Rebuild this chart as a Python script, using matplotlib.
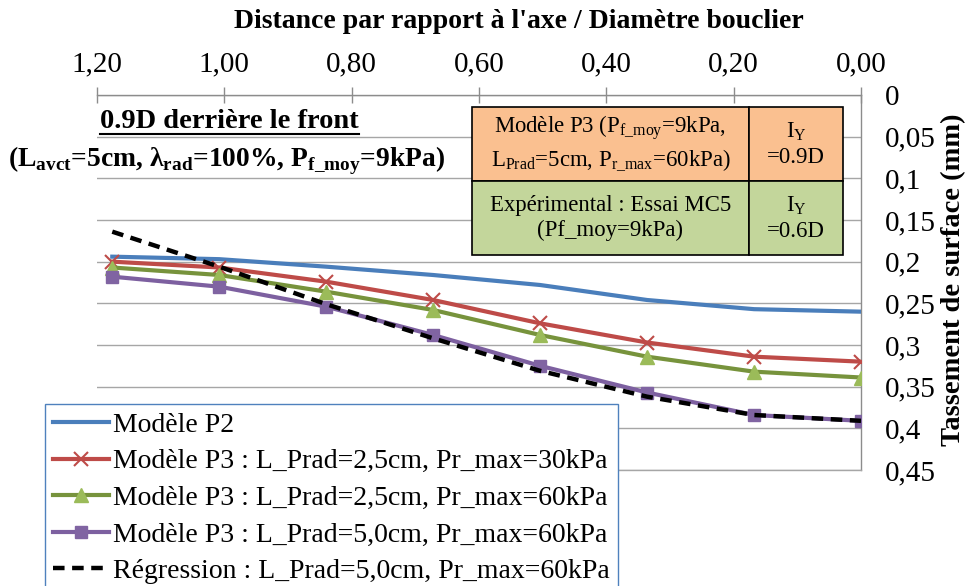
import numpy as np
import matplotlib
matplotlib.use('Agg')
import matplotlib.pyplot as plt
from matplotlib.ticker import FuncFormatter
from matplotlib.lines import Line2D

plt.rcParams['font.family'] = ['Liberation Serif', 'DejaVu Serif']

# distance / diameter (x axis is reversed: 1.2 on the left, 0 on the right)
distance = [1.176, 1.008, 0.840, 0.672, 0.504, 0.336, 0.168, 0.000]

# surface settlement (mm)
p2 = [0.194, 0.197, 0.206, 0.216, 0.228, 0.246, 0.257, 0.260]
p3_25_30 = [0.200, 0.207, 0.224, 0.246, 0.274, 0.297, 0.314, 0.320]
p3_25_60 = [0.207, 0.216, 0.236, 0.258, 0.288, 0.314, 0.332, 0.339]
p3_50_60 = [0.218, 0.230, 0.254, 0.288, 0.325, 0.357, 0.384, 0.391]
regression = [0.164, 0.206, 0.251, 0.292, 0.331, 0.362, 0.384, 0.391]

labels = ['Modèle P2',
          'Modèle P3 : L_Prad=2,5cm, Pr_max=30kPa',
          'Modèle P3 : L_Prad=2,5cm, Pr_max=60kPa',
          'Modèle P3 : L_Prad=5,0cm, Pr_max=60kPa',
          'Régression : L_Prad=5,0cm, Pr_max=60kPa']

x_ticks = [1.2, 1.0, 0.8, 0.6, 0.4, 0.2, 0.0]
y_ticks = [0, 0.05, 0.1, 0.15, 0.2, 0.25, 0.3, 0.35, 0.4, 0.45]

fig = plt.figure(figsize=(9.77, 5.86), dpi=100)
ax = fig.add_axes([97 / 977, 1 - 470 / 586, 764 / 977, 375 / 586])

ax.plot(distance, p2, color='#4A7EBB', lw=3, label=labels[0], zorder=3)
ax.plot(distance, p3_25_30, color='#BE4B48', lw=3, marker='x', ms=10, mew=1.5,
        label=labels[1], zorder=3)
ax.plot(distance, p3_25_60, color='#77933C', lw=3, marker='^', ms=10,
        mfc='#9BBB59', mec='#9BBB59', label=labels[2], zorder=3)
ax.plot(distance, p3_50_60, color='#7D60A0', lw=3, marker='s', ms=9,
        mfc='#8064A2', mec='#8064A2', label=labels[3], zorder=3)
ax.plot(distance, regression, color='black', lw=3.2, ls=(0, (2.6, 1.7)),
        label=labels[4], zorder=4)

ax.set_xlim(1.2, 0)
ax.set_ylim(0.45, 0)
ax.set_xticks(x_ticks)
ax.set_yticks(y_ticks)
ax.xaxis.set_major_formatter(FuncFormatter(lambda v, p: f'{v:.2f}'.replace('.', ',')))
ax.yaxis.set_major_formatter(FuncFormatter(lambda v, p: f'{v:g}'.replace('.', ',')))

ax.xaxis.tick_top()
ax.xaxis.set_label_position('top')
ax.yaxis.tick_right()
ax.yaxis.set_label_position('right')
ax.tick_params(axis='x', direction='inout', length=11, width=1, color='#8C8C8C',
               labelsize=21, pad=7)
ax.tick_params(axis='y', length=0, labelsize=21, pad=17)

ax.grid(axis='y', color='#A6A6A6', lw=1)
ax.spines['left'].set_visible(False)
for side in ['top', 'right', 'bottom']:
    ax.spines[side].set_color('#8C8C8C')
    ax.spines[side].set_linewidth(1)
ax.spines['bottom'].set_color('#A6A6A6')

ax.set_xlabel("Distance par rapport à l'axe / Diamètre bouclier",
              fontsize=20, fontweight='bold')
ax.xaxis.set_label_coords((519 - 97) / 764, (470 - 22) / 375)
ax.xaxis.label.set_va('center')
ax.set_ylabel('Tassement de surface (mm)', fontsize=20.5, fontweight='bold')
ax.yaxis.set_label_coords((954 - 97) / 764, (470 - 280) / 375)
ax.yaxis.label.set_va('center')

# annotations
t1 = fig.text(100 / 977, 1 - 122 / 586, '0.9D derrière le front', fontsize=20.5,
              fontweight='bold', va='center', ha='left')
fig.text(8 / 977, 1 - 161 / 586,
         r'(L$_\mathregular{avct}$=5cm, λ$_\mathregular{rad}$=100%, '
         r'P$_\mathregular{f\_moy}$=9kPa)',
         fontsize=19.8, fontweight='bold', va='center', ha='left')

# info table
cell_text = [[r'Modèle P3 (P$_\mathregular{f\_moy}$=9kPa,' + '\n' +
              r'L$_\mathregular{Prad}$=5cm, P$_\mathregular{r\_max}$=60kPa)',
              'I$_\\mathregular{Y}$\n=0.9D'],
             ['Expérimental : Essai MC5\n(Pf_moy=9kPa)',
              'I$_\\mathregular{Y}$\n=0.6D']]
cell_colors = [['#FAC090', '#FAC090'], ['#C3D69B', '#C3D69B']]
tab = ax.table(cellText=cell_text, cellColours=cell_colors, cellLoc='center',
               colWidths=[277, 94],
               bbox=[(472 - 97) / 764, (470 - 255) / 375, 371 / 764, 148 / 375])
tab.auto_set_font_size(False)
tab.set_fontsize(16.4)
for cell in tab.get_celld().values():
    cell.set_edgecolor('black')
    cell.set_linewidth(1.2)
    cell.get_text().set_linespacing(1.25)
tab.set_zorder(5)

leg = ax.legend(loc='upper left', bbox_to_anchor=(45 / 977, 1 - 404 / 586),
                bbox_transform=fig.transFigure, fontsize=20, frameon=True,
                fancybox=False, borderpad=0.3, labelspacing=0.4,
                handlelength=2.0, handletextpad=0.15, borderaxespad=0)
leg.get_frame().set_edgecolor('#4F81BD')
leg.get_frame().set_linewidth(1)
leg.get_frame().set_alpha(1)
leg.set_zorder(6)

# underline the section title
fig.canvas.draw()
bb = t1.get_window_extent()
fig.add_artist(Line2D([bb.x0 / fig.dpi / 9.77, bb.x1 / fig.dpi / 9.77],
                      [(bb.y0 + 1) / fig.dpi / 5.86] * 2,
                      transform=fig.transFigure, color='black', lw=1.5))

plt.savefig('out.png', dpi=100)
